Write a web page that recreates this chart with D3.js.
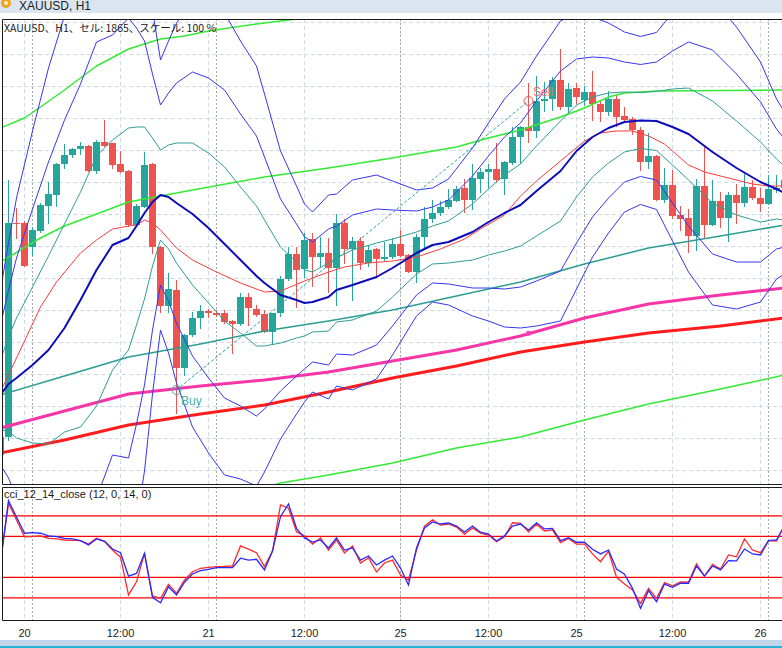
<!DOCTYPE html>
<html>
<head>
<meta charset="utf-8">
<script src="https://cdn.jsdelivr.net/npm/d3@7"></script>
<style>
  body { margin: 0; background: #ffffff; }
  svg { display: block; }
</style>
</head>
<body>
<div id="chart"></div>
<script>
// ---- candles (XAUUSD H1), one entry per bar ----
let openP = [1791.75,1796.25,1849.83,1849.75,1843.83,1847.83,1854.08,1856.75,1864.5,1866.75,
  1868.18,1869,1862.83,1869.93,1869.68,1864.5,1862.75,1849.25,1853.83,1864.5,
  1843.83,1829.08,1833,1813.58,1821.75,1826.08,1827.75,1827.33,1827.18,1825.25,
  1824.5,1831.25,1828.18,1827,1822.58,1827.18,1835.68,1841.93,1838.18,1845.68,
  1841.33,1842.18,1838.43,1849.68,1843.25,1845.25,1839.68,1843.18,1840.83,1841.18,
  1844.43,1841.75,1837.58,1846.18,1850.68,1852.18,1853.83,1855.33,1858.58,1855.5,
  1860.68,1862.58,1863.18,1860.68,1864.68,1871.18,1873.68,1872.83,1880.18,1880.68,
  1885.5,1878.83,1883.43,1880.5,1882.43,1879.5,1877.58,1880.75,1876.5,1875.68,
  1873,1865.08,1866.5,1855.5,1859.25,1851.75,1850.93,1846.5,1859,1849.25,
  1855.25,1851.08,1856.75,1854.83,1858.75,1856,1854.5,1858,1858.5];
let highP = [1797.5,1860.5,1853.5,1850.25,1848.83,1854.83,1860.08,1864.75,1869.5,1868.58,
  1870.08,1869.25,1870.5,1875.5,1869.75,1867.75,1863,1854.5,1867.43,1864.83,
  1844,1837.18,1835.5,1822,1827.58,1829.25,1828.18,1828,1828,1825.5,
  1832.25,1832.18,1829.25,1828,1827.25,1836.5,1843.83,1843.83,1847.18,1847.18,
  1846.33,1845.93,1852,1850.83,1846.33,1846.18,1844.18,1843.5,1845.08,1845.93,
  1848,1842,1846.93,1853.83,1855.5,1855.25,1858.18,1859,1860.68,1864.5,
  1863.43,1864.5,1869.68,1865.13,1873.83,1874,1884.75,1886.5,1885.08,1886.33,
  1893.18,1884.83,1884.68,1884,1887.75,1880.5,1882.83,1881.75,1878.63,1876.13,
  1873.83,1872.25,1866.75,1863.5,1863,1853.88,1853.18,1860.68,1868.75,1860.5,
  1857.38,1857.5,1859.5,1861.88,1860.5,1858.5,1861.75,1861.75,1862.58];
let lowP = [1791,1795.5,1846,1839,1841.75,1847.5,1849.68,1854,1863.43,1866.18,
  1866.93,1862.75,1862.33,1869,1863.43,1862.5,1849,1849,1853.75,1842.18,
  1827.58,1827.58,1802.18,1811.75,1821.5,1823.43,1826.33,1826.5,1824.75,1817.33,
  1824.25,1824.25,1826.5,1822.5,1819.5,1826.5,1835.5,1828.68,1836.33,1834.08,
  1839.08,1832.58,1829.25,1839.83,1830.5,1838.18,1839,1836.18,1840.5,1841,
  1841.5,1837.5,1835.08,1843.83,1849.93,1851.75,1853.43,1855.25,1852.43,1853.18,
  1857.58,1858.83,1860.08,1857,1864.5,1864.75,1870.08,1871.33,1877.83,1878,
  1878.18,1877.43,1879.68,1879.25,1875.5,1875.33,1876.75,1874,1875.38,1872,
  1863,1863.43,1855.38,1855.08,1850.93,1848,1842.58,1843,1846.33,1849.13,
  1848.83,1845.25,1849.83,1854,1855.83,1852.75,1854.38,1857.5,1858];
let closeP = [1796.25,1849.75,1849.5,1839,1848,1854.25,1857,1864.5,1866.75,1868.25,
  1869,1862.83,1869.93,1869.08,1864.25,1862.58,1849.25,1854,1864.25,1843.83,
  1829,1833.18,1813.58,1821.75,1826.08,1827.75,1827.18,1826.83,1825,1824.5,
  1831.25,1828.43,1826.75,1822.58,1827.18,1835.68,1841.93,1838,1845.5,1841.33,
  1842.18,1838.43,1849.68,1843.25,1845.25,1839.68,1843,1840.83,1841.33,1844.43,
  1841.58,1837.58,1846.33,1850.68,1852.18,1853.83,1855.5,1858.18,1855.5,1860.93,
  1862.58,1863.18,1860.5,1864.93,1871.18,1873.68,1872.83,1880.25,1880.83,1885.5,
  1878.83,1883.25,1881.33,1882.43,1879.5,1877.58,1880.75,1876.33,1875.5,1873,
  1865.08,1866.5,1855.5,1859.25,1851.5,1850.75,1846.5,1859,1849.25,1855.25,
  1851.08,1856.75,1854.83,1858.75,1856,1854.5,1858.18,1858.5,1860.5];

// ---- bollinger band lines (read at these bars) ----
let bbIdx = [0,1,2,4,6,8,10,12,14,16,17,18,19,20,21,22,24,26,28,30,32,33,35,37,38,39,41,42,44,47,49,
  52,54,56,59,61,63,65,67,70,72,74,76,78,80,82,84,86,89,92,95,97,98];
let bbMid = [1806.75,1809.5,1811,1814.25,1818,1823.5,1830.5,1838,1844.25,1846,1849,1852.25,1855,1856.75,
  1856.25,1854.75,1852,1848.5,1844.5,1840.5,1836.5,1834.75,1831.75,1830.5,1829.75,1830,1831.25,1833,
  1834.25,1836.25,1838.5,1842.25,1844.25,1845,1847.5,1850,1852.25,1854.25,1857.75,1862.75,1867.75,
  1871.25,1873.5,1875,1875.38,1875.25,1873.75,1872,1867.5,1863.5,1860,1858.25,1857.25];
let bbUp1 = [1815.5,1821.25,1826,1833.75,1841.5,1849.5,1857.5,1866.5,1870.5,1873.5,1873.75,1873.75,1871,
  1868,1869.25,1869.75,1869.75,1867.25,1863.75,1858.75,1854,1850.5,1843.75,1840,1838,1837.5,1839.75,1841,
  1843,1844.75,1845.75,1847.5,1849,1850.25,1854.5,1858.25,1861.75,1864.5,1869,1875.25,1879.25,1881.25,
  1882.25,1882.5,1882.38,1882.63,1883.25,1883.5,1880.25,1875.25,1870,1865.75,1864];
let bbUp2 = [1824.25,1833,1841,1853.25,1865,1875.5,1884.5,1895,1896.75,1901,1898.5,1895.25,1887,1879.25,
  1882.25,1884.75,1887.5,1886,1883,1877,1871.5,1866.25,1855.75,1849.5,1846.25,1845,1848.25,1849,1851.75,
  1853.25,1853,1852.75,1853.75,1855.5,1861.5,1866.5,1871.25,1874.75,1880.25,1887.75,1890.75,1891.25,1891,
  1890,1889.38,1890,1892.75,1895,1893,1887,1880,1873.25,1870.75];
let bbUp3 = [1833,1844.75,1856,1872.75,1888.5,1901.5,1911.5,1923.5,1923,1928.5,1923.25,1916.75,1903,1890.5,
  1895.25,1899.75,1905.25,1904.75,1902.25,1895.25,1889,1882,1867.75,1859,1854.5,1852.5,1856.75,1857,1860.5,
  1861.75,1860.25,1858,1858.5,1860.75,1868.5,1874.75,1880.75,1885,1891.5,1900.25,1902.25,1901.25,1899.75,
  1897.5,1896.38,1897.38,1902.25,1906.5,1905.75,1898.75,1890,1880.75,1877.5];
let bbDn1 = [1798,1797.75,1796,1794.75,1794.5,1797.5,1798.75,1804,1813,1818,1824.25,1830.75,1839,1845.5,
  1843.25,1839.75,1834.25,1829.75,1825.25,1822.25,1819,1819,1819.75,1821,1821.5,1822.5,1822.75,1825,1825.5,
  1827.75,1831.25,1837,1839.5,1839.75,1840.5,1841.75,1842.75,1844,1846.5,1850.25,1856.25,1861.25,1864.75,
  1867.5,1868.38,1867.88,1864.25,1860.5,1854.75,1851.75,1850,1850.75,1850.5];
let bbDn2 = [1789.25,1786,1781,1775.25,1771,1771.5,1776.5,1781,1791.75,1791,1799.5,1809.25,1823,1834.25,
  1830.25,1824.75,1816.5,1811,1806,1804,1801.5,1803.25,1807.75,1811.5,1813.25,1815,1814.25,1817,1816.75,
  1819.25,1824,1831.75,1834.75,1834.5,1833.5,1833.5,1833.25,1833.75,1835.25,1837.75,1844.75,1851.25,1856,
  1860,1861.38,1860.5,1854.75,1849,1842,1840,1840,1843.25,1843.75];
let bbDn3 = [1780.5,1774.25,1766,1755.75,1747.5,1745.5,1749.5,1752.5,1765.5,1763.5,1774.75,1787.75,1807,1823,
  1817.25,1809.75,1798.75,1792.25,1786.75,1785.75,1784,1787.5,1795.75,1802,1805,1807.5,1805.75,1809,1808,
  1810.75,1816.75,1826.5,1830,1829.25,1826.5,1825.25,1823.75,1823.5,1824,1825.25,1833.25,1841.25,1847.25,
  1852.5,1854.38,1853.13,1845.25,1837.5,1829.25,1828.25,1830,1835.75,1837];

// ---- fast moving average (thin red) ----
let emaIdx = [0,2,5,7,10,12,14,16,17,18,19,20,22,24,27,30,33,35,38,41,43,46,49,52,55,58,60,63,65,67,70,
  73,75,77,79,81,83,86,88,91,94,96,98];
let emaVals = [1807.5,1816,1828.75,1835,1842.25,1845.5,1848.25,1849,1849.25,1850.5,1849.75,1848,1843.5,
  1840.5,1837.5,1834.75,1832.5,1832.75,1835.25,1837.5,1838.75,1839.75,1840.25,1841.25,1843.25,1845.75,
  1848.25,1851.75,1856.5,1860.25,1865.25,1870.25,1872.25,1872.75,1872.75,1871.5,1869.5,1864.25,1862.5,
  1861,1859.5,1859,1859];

// ---- slow averages and the long band ----
let longIdx = [0,8,16,25,33,41,49,57,65,73,81,90,98];
let slowTeal = [1806.75,1811.5,1816.25,1819.5,1822.75,1825.25,1828,1831.5,1835,1839.5,1843.5,1846.5,1849.25];
let pinkMa = [1798.5,1802.75,1807,1809,1810.5,1812.5,1815.25,1818,1821.5,1826,1829.5,1831.75,1833.5];
let redMa = [1792.25,1795.5,1799.25,1802,1804.25,1807.5,1811,1814,1817.5,1820,1822.25,1824,1826];
let greenMidIdx = [0,5,8,12,16,24,33,41,49,57,61,65,70,73,76,78,82,98];
let greenMid = [1840,1846,1849,1852,1855,1858,1861.25,1863.5,1866,1868.75,1871,1873,1876.25,1878.5,1881.25,
  1882.25,1882.75,1883];
let greenTopIdx = [0,3,5,8,12,16,20,23,26,32,37,42];
let greenTop = [1873.5,1876,1878.75,1883,1889,1893.25,1895.75,1896.5,1897.75,1899.5,1900.75,1902];
let greenBotIdx = [30,35,41,49,57,65,73,81,90,98];
let greenBot = [1781.75,1784.75,1786.75,1789.75,1793.5,1796.25,1800.5,1804.5,1808.25,1811.75];

// ---- trade arrows ----
let buyBar = 22, buyPrice = 1808;
let sellBar = 66, sellPrice = 1880.25;
let pinkMarkBar = 66, pinkMarkPrice = 1822.2;

// ---- cci sub window ----
let cciBlue = [-25,274,194,115,118,115,102,98,90,87, 79,58,87,77,38,20,-94,-81,17,-198,
  -224,-146,-186,-124,-84,-68,-61,-53,-53,-53, -7,-16,-12,-64,28,196,258,139,92,72,
  82,43,92,33,43,-16,4,-40,-16,4, -55,-138,43,141,170,160,165,150,121,150,
  120,111,77,102,150,160,131,166,136,139, 79,93,71,71,37,14,33,-60,-85,-154,
  -251,-165,-219,-133,-149,-129,-129,-45,-94,-45, -64,-19,-20,38,14,9,79,82,153];
let cciRed = [-25,261,180,98,99,102,90,87,82,80, 79,62,90,74,33,-2,-186,-122,17,-191,
  -203,-134,-178,-113,-73,-56,-52,-48,-47,-45, 53,37,20,-48,28,253,237,122,102,62,
  92,33,82,19,53,-30,-6,-74,-30,-16, -89,-113,33,150,180,155,160,145,111,141,
  115,106,74,98,166,163,122,159,126,131, 69,90,62,62,14,-24,28,-100,-133,-162,
  -227,-154,-203,-126,-142,-122,-124,-35,-94,-37, -60,9,0,87,33,20,79,77,153];
let cciLevels = [200, 100, -100, -200];

// ---- time axis ----
let tickBars = [3, 15, 26, 38, 50, 61, 72, 84, 95];
let tickLabels = ["20", "12:00", "21", "12:00", "25", "12:00", "25", "12:00", "26"];
let sepBars = [4, 27, 50, 73, 96];
let gridPrices = d3.range(1900, 1785, -8);

let width = 782, height = 648;

let svg = d3.select('#chart')
  .append('svg')
    .attr('width', width)
    .attr('height', height)
    .style('background', '#ffffff');

let xScale = d3.scaleLinear().domain([0, 98]).range([0.5, 784.5]);
let yScale = d3.scaleLinear().domain([1900.75, 1784.5]).range([19, 484]);
let cciScale = d3.scaleLinear().domain([340.6, -308.4]).range([487, 620]);

let defs = svg.append('defs');
defs.append('clipPath').attr('id', 'clip-main')
  .append('rect').attr('x', 3).attr('y', 20).attr('width', width - 3).attr('height', 464);
defs.append('clipPath').attr('id', 'clip-cci')
  .append('rect').attr('x', 3).attr('y', 488).attr('width', width - 3).attr('height', 132);

// window title strip
svg.append('rect').attr('x', 0).attr('y', 0).attr('width', width).attr('height', 13).attr('fill', '#dbe5f0');
svg.append('circle').attr('cx', 6).attr('cy', 3).attr('r', 5).attr('fill', '#f4a21c');
svg.append('circle').attr('cx', 6).attr('cy', 3).attr('r', 2).attr('fill', '#fff1c8');
svg.append('text').attr('x', 19).attr('y', 10)
  .style('font', '12px "Liberation Sans", sans-serif').attr('fill', '#1e1e1e')
  .text('XAUUSD, H1');

let main = svg.append('g').attr('clip-path', 'url(#clip-main)');
let sub = svg.append('g').attr('clip-path', 'url(#clip-cci)');

// grids
main.selectAll('.hgrid')
  .data(gridPrices)
  .enter().append('line')
    .attr('x1', 3).attr('x2', width)
    .attr('y1', function(d) { return Math.round(yScale(d)) + 0.5; })
    .attr('y2', function(d) { return Math.round(yScale(d)) + 0.5; })
    .attr('stroke', '#cddbe7').attr('stroke-dasharray', '4,3');

[main, sub].forEach(function (g) {
  g.selectAll('.vgrid')
    .data(tickBars)
    .enter().append('line')
      .attr('x1', function(d) { return Math.floor(xScale(d)) + 0.5; })
      .attr('x2', function(d) { return Math.floor(xScale(d)) + 0.5; })
      .attr('y1', 19).attr('y2', 621)
      .attr('stroke', '#cddbe7').attr('stroke-dasharray', '4,3');
  g.selectAll('.sep')
    .data(sepBars)
    .enter().append('line')
      .attr('x1', function(d) { return Math.floor(xScale(d)) + 0.5; })
      .attr('x2', function(d) { return Math.floor(xScale(d)) + 0.5; })
      .attr('y1', 19).attr('y2', 621)
      .attr('stroke', '#a9a9a9').attr('stroke-dasharray', '2,2');
});

// candles
let bars = d3.range(openP.length);
main.selectAll('.wick')
  .data(bars)
  .enter().append('line')
    .attr('x1', function(i) { return xScale(i); })
    .attr('x2', function(i) { return xScale(i); })
    .attr('y1', function(i) { return Math.round(yScale(highP[i])); })
    .attr('y2', function(i) { return Math.round(yScale(lowP[i])) + 1; })
    .attr('stroke', function(i) { return closeP[i] >= openP[i] ? '#26a69a' : '#ef5350'; });
main.selectAll('.body')
  .data(bars)
  .enter().append('rect')
    .attr('x', function(i) { return xScale(i) - 3.5; })
    .attr('width', 7)
    .attr('y', function(i) { return Math.round(yScale(Math.max(openP[i], closeP[i]))); })
    .attr('height', function(i) {
      let h = Math.round(yScale(Math.min(openP[i], closeP[i]))) - Math.round(yScale(Math.max(openP[i], closeP[i])));
      return Math.max(h, 1);
    })
    .attr('fill', function(i) { return closeP[i] >= openP[i] ? '#26a69a' : '#ef5350'; });

// indicator lines
let priceLine = d3.line()
  .x(function(d) { return xScale(d[0]); })
  .y(function(d) { return yScale(d[1]); });

function drawLine(idx, vals, color, w) {
  main.append('path')
    .datum(d3.zip(idx, vals))
    .attr('fill', 'none')
    .attr('stroke', color)
    .attr('stroke-width', w)
    .attr('stroke-linejoin', 'round')
    .attr('d', priceLine);
}

drawLine(greenTopIdx, greenTop, '#33ea33', 1.5);
drawLine(greenMidIdx, greenMid, '#33ea33', 1.5);
drawLine(greenBotIdx, greenBot, '#33ea33', 1.5);
drawLine(longIdx, slowTeal, '#2b9d93', 1.5);
drawLine(longIdx, redMa, '#ff1c1c', 3);
drawLine(longIdx, pinkMa, '#f735a6', 3);

drawLine(bbIdx, bbUp3, '#3636f4', 1);
drawLine(bbIdx, bbDn3, '#3636f4', 1);
drawLine(bbIdx, bbUp2, '#3636f4', 1);
drawLine(bbIdx, bbDn2, '#3636f4', 1);
drawLine(bbIdx, bbUp1, '#2f9e95', 1);
drawLine(bbIdx, bbDn1, '#2f9e95', 1);
drawLine(emaIdx, emaVals, '#ff3b3b', 1);
drawLine(bbIdx, bbMid, '#0c0cb8', 2);

// trade history: entry, exit and connecting line
main.append('line')
  .attr('x1', xScale(buyBar)).attr('y1', yScale(buyPrice))
  .attr('x2', xScale(sellBar)).attr('y2', yScale(sellPrice))
  .attr('stroke', '#26a69a').attr('stroke-dasharray', '3,2');
main.append('circle')
  .attr('cx', xScale(buyBar)).attr('cy', yScale(buyPrice)).attr('r', 4.5)
  .attr('fill', 'none').attr('stroke', '#3fb0a6');
main.append('text')
  .attr('x', xScale(buyBar) + 4.5).attr('y', yScale(buyPrice) + 15)
  .style('font', '12px "Liberation Sans", sans-serif').attr('fill', '#45b3a9')
  .text('Buy');
main.append('circle')
  .attr('cx', xScale(sellBar)).attr('cy', yScale(sellPrice)).attr('r', 4.5)
  .attr('fill', 'none').attr('stroke', '#ef5350');
main.append('text')
  .attr('x', xScale(sellBar) + 4.5).attr('y', yScale(sellPrice) - 5)
  .style('font', '12px "Liberation Sans", sans-serif').attr('fill', '#f06464')
  .text('Sell');
main.append('circle')
  .attr('cx', xScale(pinkMarkBar)).attr('cy', yScale(pinkMarkPrice)).attr('r', 2.5)
  .attr('fill', '#ff3fae');

main.append('text')
  .attr('x', 4).attr('y', 32)
  .style('font', '10.5px "Noto Sans CJK JP", sans-serif').attr('fill', '#1a1a1a')
  .text('XAUUSD、H1、セル: 1865、スケール: 100 %');

// cci sub window
sub.selectAll('.level')
  .data(cciLevels)
  .enter().append('line')
    .attr('x1', 3).attr('x2', width)
    .attr('y1', function(d) { return cciScale(d); })
    .attr('y2', function(d) { return cciScale(d); })
    .attr('stroke', '#ff0000').attr('stroke-width', 1.3);

let cciLine = d3.line()
  .x(function(d, i) { return xScale(i); })
  .y(function(d) { return cciScale(d); });

sub.append('path').datum(cciRed)
  .attr('fill', 'none').attr('stroke', '#ff2a2a').attr('stroke-width', 1.3).attr('d', cciLine);
sub.append('path').datum(cciBlue)
  .attr('fill', 'none').attr('stroke', '#2a2aff').attr('stroke-width', 1.3).attr('d', cciLine);

sub.append('text')
  .attr('x', 4).attr('y', 498)
  .style('font', '11px "Liberation Sans", sans-serif').attr('fill', '#1a1a1a')
  .text('cci_12_14_close (12, 0, 14, 0)');

// panel frames
svg.append('path')
  .attr('d', 'M2.5,484.5V19.5H' + width + 'M2.5,484.5H' + width)
  .attr('fill', 'none').attr('stroke', '#1c1c1c');
svg.append('path')
  .attr('d', 'M' + width + ',487.5H2.5V620.5H' + width)
  .attr('fill', 'none').attr('stroke', '#1c1c1c');

// time labels
svg.selectAll('.tlabel')
  .data(tickBars)
  .enter().append('text')
    .attr('x', function(d) { return xScale(d); })
    .attr('y', 637)
    .attr('text-anchor', 'middle')
    .style('font', '11px "Liberation Sans", sans-serif')
    .attr('fill', '#222')
    .text(function(d, i) { return tickLabels[i]; });

// bottom scroll strip
svg.append('rect').attr('x', 0).attr('y', 640).attr('width', width).attr('height', 6).attr('fill', '#c2d6ea');
svg.append('rect').attr('x', 0).attr('y', 646).attr('width', width).attr('height', 2).attr('fill', '#25b2d4');
</script>
</body>
</html>
